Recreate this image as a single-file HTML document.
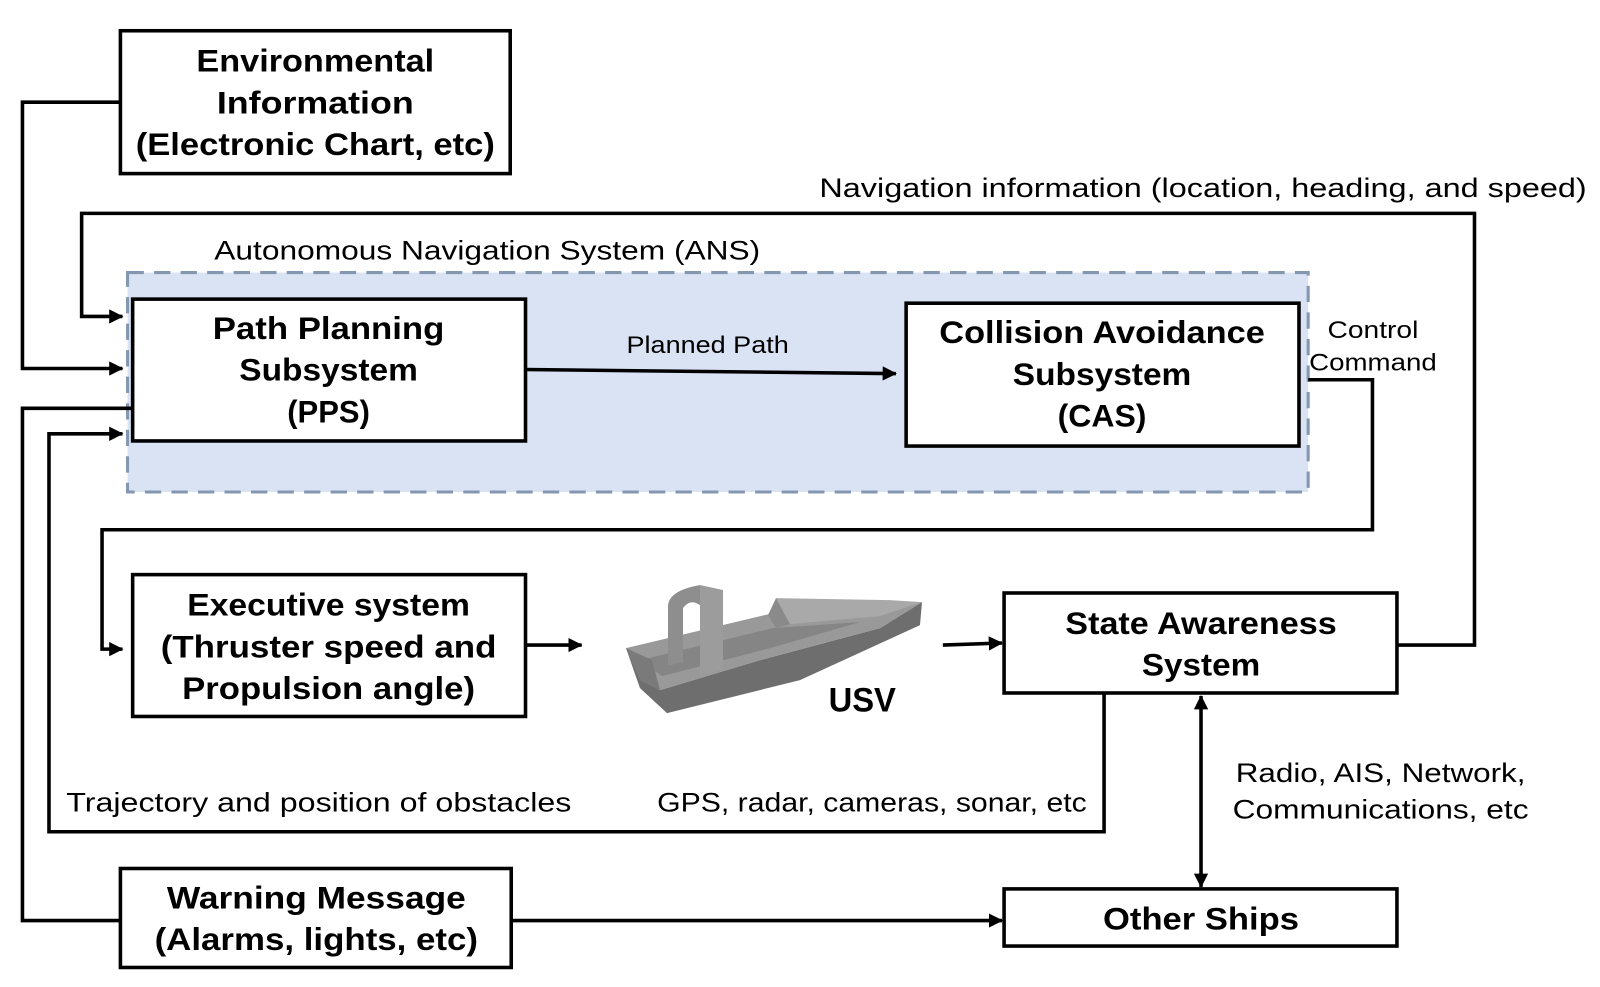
<!DOCTYPE html>
<html><head><meta charset="utf-8"><style>
html,body{margin:0;padding:0;background:#fff;width:1600px;height:987px;overflow:hidden}
svg text{font-family:"Liberation Sans","DejaVu Sans",sans-serif}
.b{font-weight:bold;font-size:31px;text-anchor:middle}
.t{font-size:26px}
</style></head><body>
<svg width="1600" height="987" viewBox="0 0 1568 967" xmlns="http://www.w3.org/2000/svg">
<defs>
<marker id="s" markerWidth="14" markerHeight="14" refX="13" refY="7" orient="auto-start-reverse" markerUnits="userSpaceOnUse" viewBox="0 0 14 14">
<path d="M0,0 L14,7 L0,14 z" fill="#000"/></marker>
</defs>
<rect x="125" y="267" width="1157" height="215" fill="#dae3f3" stroke="#8497b0" stroke-width="3" stroke-dasharray="16,10"/>
<g fill="#fff" stroke="#000" stroke-width="3.5">
<rect x="118" y="30" width="382" height="140"/>
<rect x="130" y="293" width="385" height="139"/>
<rect x="888" y="297" width="385" height="140"/>
<rect x="130" y="563" width="385" height="139"/>
<rect x="984" y="581" width="385" height="98"/>
<rect x="118" y="851" width="383" height="97"/>
<rect x="984" y="871" width="385" height="56"/>
</g>
<g fill="none" stroke="#000" stroke-width="3.5">
<polyline points="118,100 22,100 22,361 120,361" marker-end="url(#s)"/>
<polyline points="1369,632 1445,632 1445,209 80,209 80,310 120,310" marker-end="url(#s)"/>
<polyline points="130,400 22,400 22,902 118,902"/>
<polyline points="1082,680 1082,815 48,815 48,425 120,425" marker-end="url(#s)"/>
<polyline points="1282,372 1345,372 1345,519 100,519 100,636 120,636" marker-end="url(#s)"/>
<line x1="515" y1="362" x2="878" y2="366" marker-end="url(#s)"/>
<line x1="515" y1="632" x2="570" y2="632" marker-end="url(#s)"/>
<line x1="924" y1="632" x2="982" y2="630" marker-end="url(#s)"/>
<line x1="501" y1="902" x2="982" y2="902" marker-end="url(#s)"/>
<line x1="1177" y1="682" x2="1177" y2="869" marker-start="url(#s)" marker-end="url(#s)"/>
</g>
<!-- boat -->
<g stroke="none" transform="scale(0.98)">
<polygon points="626,648 640,688 667,713 800,680 920,625 922,602 880,628 760,660 660,690" fill="#6e6e6e"/>
<polygon points="626,648 773,613 922,602 880,628 760,660 660,690 640,680" fill="#999"/>
<polygon points="640,660 773,628 860,622 770,648 662,676" fill="#858585"/>
<polygon points="626,648 652,660 660,690 640,680" fill="#7a7a7a"/>
<polygon points="773,612 776,598 890,600 922,602 880,616 790,624" fill="#a9a9a9"/>
<polygon points="776,598 790,624 776,628 768,615" fill="#8a8a8a"/>
<path d="M668,665 L668,605 Q670,590 700,585 L723,590 L723,670 L700,676 L700,605 Q690,598 683,608 L683,662 Z" fill="#8e8e8e"/>
<path d="M700,585 L723,590 L723,670 L700,676 Z" fill="#9c9c9c"/>
</g>
<g fill="#000">
<text class="b" x="309" y="70" textLength="233" lengthAdjust="spacingAndGlyphs">Environmental</text>
<text class="b" x="309" y="111" textLength="193" lengthAdjust="spacingAndGlyphs">Information</text>
<text class="b" x="309" y="152" textLength="352" lengthAdjust="spacingAndGlyphs">(Electronic Chart, etc)</text>
<text class="b" x="322" y="332" textLength="227" lengthAdjust="spacingAndGlyphs">Path Planning</text>
<text class="b" x="322" y="373" textLength="175" lengthAdjust="spacingAndGlyphs">Subsystem</text>
<text class="b" x="322" y="414" textLength="81" lengthAdjust="spacingAndGlyphs">(PPS)</text>
<text class="b" x="1080" y="336" textLength="319" lengthAdjust="spacingAndGlyphs">Collision Avoidance</text>
<text class="b" x="1080" y="377" textLength="175" lengthAdjust="spacingAndGlyphs">Subsystem</text>
<text class="b" x="1080" y="418" textLength="87" lengthAdjust="spacingAndGlyphs">(CAS)</text>
<text class="b" x="322" y="603" textLength="277" lengthAdjust="spacingAndGlyphs">Executive system</text>
<text class="b" x="322" y="644" textLength="329" lengthAdjust="spacingAndGlyphs">(Thruster speed and</text>
<text class="b" x="322" y="685" textLength="287" lengthAdjust="spacingAndGlyphs">Propulsion angle)</text>
<text class="b" x="1177" y="621" textLength="266" lengthAdjust="spacingAndGlyphs">State Awareness</text>
<text class="b" x="1177" y="662" textLength="116" lengthAdjust="spacingAndGlyphs">System</text>
<text class="b" x="310" y="890" textLength="293" lengthAdjust="spacingAndGlyphs">Warning Message</text>
<text class="b" x="310" y="931" textLength="317" lengthAdjust="spacingAndGlyphs">(Alarms, lights, etc)</text>
<text class="b" x="1177" y="911" textLength="192" lengthAdjust="spacingAndGlyphs">Other Ships</text>
<text class="b" x="845" y="697" style="font-size:34px" textLength="66" lengthAdjust="spacingAndGlyphs">USV</text>
<text class="t" x="803" y="193" textLength="752" lengthAdjust="spacingAndGlyphs">Navigation information (location, heading, and speed)</text>
<text class="t" x="210" y="254" textLength="535" lengthAdjust="spacingAndGlyphs">Autonomous Navigation System (ANS)</text>
<text class="t" x="614" y="346" style="font-size:24px" textLength="159" lengthAdjust="spacingAndGlyphs">Planned Path</text>
<text class="t" x="1301" y="331" style="font-size:24px" textLength="89" lengthAdjust="spacingAndGlyphs">Control</text>
<text class="t" x="1283" y="363" style="font-size:24px" textLength="125" lengthAdjust="spacingAndGlyphs">Command</text>
<text class="t" x="65" y="795" textLength="495" lengthAdjust="spacingAndGlyphs">Trajectory and position of obstacles</text>
<text class="t" x="644" y="795" textLength="421" lengthAdjust="spacingAndGlyphs">GPS, radar, cameras, sonar, etc</text>
<text class="t" x="1211" y="766" textLength="284" lengthAdjust="spacingAndGlyphs">Radio, AIS, Network,</text>
<text class="t" x="1208" y="802" textLength="290" lengthAdjust="spacingAndGlyphs">Communications, etc</text>
</g>
</svg>
</body></html>
